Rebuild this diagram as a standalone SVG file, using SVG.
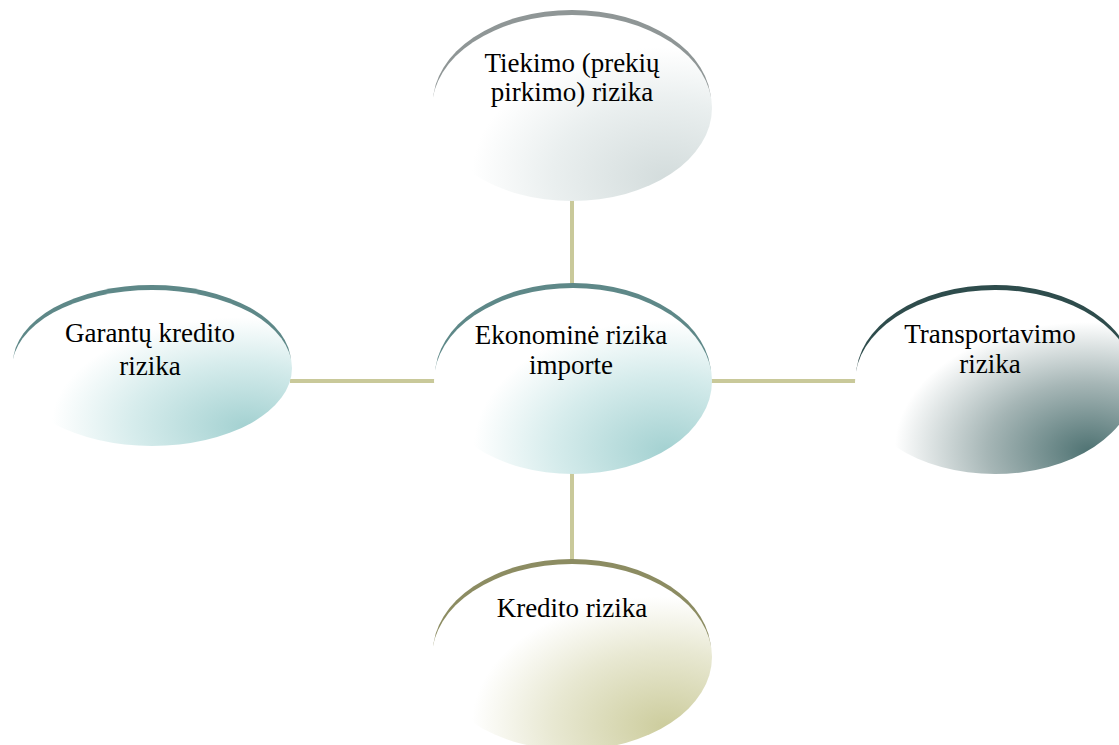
<svg xmlns="http://www.w3.org/2000/svg" width="1119" height="745" viewBox="0 0 1119 745">
<defs>
<radialGradient id="gTeal" cx="0.82" cy="0.85" r="0.8" fx="0.84" fy="0.88">
<stop offset="0" stop-color="#a3d1d1"/><stop offset="0.5" stop-color="#d6ecec"/><stop offset="0.85" stop-color="#ffffff"/>
</radialGradient>
<radialGradient id="gGrey" cx="0.82" cy="0.85" r="0.8" fx="0.84" fy="0.88">
<stop offset="0" stop-color="#d3dcdc"/><stop offset="0.5" stop-color="#eaefef"/><stop offset="0.85" stop-color="#ffffff"/>
</radialGradient>
<radialGradient id="gDark" cx="0.82" cy="0.85" r="0.8" fx="0.84" fy="0.88">
<stop offset="0" stop-color="#4e7272"/><stop offset="0.45" stop-color="#a6b6b6"/><stop offset="0.85" stop-color="#ffffff"/>
</radialGradient>
<radialGradient id="gOlive" cx="0.82" cy="0.85" r="0.8" fx="0.84" fy="0.88">
<stop offset="0" stop-color="#cccc9c"/><stop offset="0.5" stop-color="#e8e8d2"/><stop offset="0.85" stop-color="#ffffff"/>
</radialGradient>
</defs>
<style>
.conn{stroke:#c9c99a;stroke-width:4;fill:none}
.t{font-family:"Liberation Serif","Times New Roman",serif;font-size:27px;fill:#000;text-anchor:middle}
</style>
<rect width="1119" height="745" fill="#ffffff"/>
<g id="connectors">
<line class="conn" x1="572" y1="198" x2="572" y2="289"/>
<line class="conn" x1="572" y1="472" x2="572" y2="564"/>
<line class="conn" x1="290" y1="381" x2="435" y2="381"/>
<line class="conn" x1="709" y1="381" x2="856" y2="381"/>
</g>
<g id="node-top">
<ellipse cx="572" cy="103" rx="139" ry="93" fill="#8f9696"/>
<ellipse cx="572" cy="108" rx="140" ry="93" fill="url(#gGrey)"/>
<text class="t" x="572" y="72">Tiekimo (prekių</text>
<text class="t" x="572" y="101">pirkimo) rizika</text>
</g>
<g id="node-center">
<ellipse cx="573" cy="376" rx="138" ry="93" fill="#5e8888"/>
<ellipse cx="573" cy="381" rx="139" ry="93" fill="url(#gTeal)"/>
<text class="t" x="571" y="344">Ekonominė rizika</text>
<text class="t" x="571" y="374">importe</text>
</g>
<g id="node-left">
<ellipse cx="152" cy="363" rx="139" ry="78" fill="#5e8888"/>
<ellipse cx="152" cy="368" rx="140" ry="78" fill="url(#gTeal)"/>
<text class="t" x="150" y="342">Garantų kredito</text>
<text class="t" x="150" y="375">rizika</text>
</g>
<g id="node-right">
<ellipse cx="995" cy="377" rx="139" ry="92" fill="#2e4c4c"/>
<ellipse cx="995" cy="382" rx="140" ry="92" fill="url(#gDark)"/>
<text class="t" x="990" y="343">Transportavimo</text>
<text class="t" x="990" y="373">rizika</text>
</g>
<g id="node-bottom">
<ellipse cx="572" cy="652" rx="139" ry="93" fill="#8c8c62"/>
<ellipse cx="572" cy="657" rx="140" ry="93" fill="url(#gOlive)"/>
<text class="t" x="572" y="617">Kredito rizika</text>
</g>
</svg>
